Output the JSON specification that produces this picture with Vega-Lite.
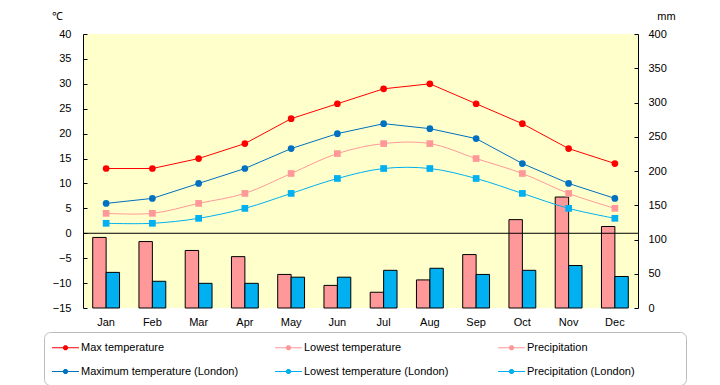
{
  "$schema": "https://vega.github.io/schema/vega-lite/v6.json",
  "width": 555,
  "height": 274,
  "autosize": "none",
  "padding": {"left": 83, "top": 34, "right": 82, "bottom": 77},
  "config": {
    "view": {"fill": "#FFFFCC", "stroke": null},
    "font": "Liberation Sans",
    "axis": {"labelFontSize": 11, "labelColor": "black", "domainColor": "black", "tickColor": "black", "grid": false, "titleFontWeight": "normal", "titleFontSize": 11, "titleColor": "black", "labelFont": "Liberation Sans", "titleFont": "Liberation Sans", "labelOverlap": false},
    "legend": {
      "orient": "none", "legendX": -39, "legendY": 298,
      "direction": "horizontal", "columns": 3, "gridAlign": "all",
      "padding": 8, "fillColor": "white", "strokeColor": "#BBBBBB", "cornerRadius": 6,
      "symbolSize": 225, "symbolStrokeWidth": 0, "symbolOpacity": 1,
      "labelFont": "Liberation Sans", "labelFontSize": 11, "labelColor": "black", "labelOffset": 14, "labelLimit": 300,
      "columnPadding": 36, "rowPadding": 11
    }
  },
  "datasets": {
    "precip": [
      {"month": "Jan", "series": "Precipitation", "value": 103},
      {"month": "Feb", "series": "Precipitation", "value": 97},
      {"month": "Mar", "series": "Precipitation", "value": 84},
      {"month": "Apr", "series": "Precipitation", "value": 75},
      {"month": "May", "series": "Precipitation", "value": 49},
      {"month": "Jun", "series": "Precipitation", "value": 33},
      {"month": "Jul", "series": "Precipitation", "value": 23},
      {"month": "Aug", "series": "Precipitation", "value": 41},
      {"month": "Sep", "series": "Precipitation", "value": 78},
      {"month": "Oct", "series": "Precipitation", "value": 129},
      {"month": "Nov", "series": "Precipitation", "value": 162},
      {"month": "Dec", "series": "Precipitation", "value": 119},
      {"month": "Jan", "series": "Precipitation (London)", "value": 52},
      {"month": "Feb", "series": "Precipitation (London)", "value": 39},
      {"month": "Mar", "series": "Precipitation (London)", "value": 36},
      {"month": "Apr", "series": "Precipitation (London)", "value": 36},
      {"month": "May", "series": "Precipitation (London)", "value": 45},
      {"month": "Jun", "series": "Precipitation (London)", "value": 45},
      {"month": "Jul", "series": "Precipitation (London)", "value": 55},
      {"month": "Aug", "series": "Precipitation (London)", "value": 58},
      {"month": "Sep", "series": "Precipitation (London)", "value": 49},
      {"month": "Oct", "series": "Precipitation (London)", "value": 55},
      {"month": "Nov", "series": "Precipitation (London)", "value": 62},
      {"month": "Dec", "series": "Precipitation (London)", "value": 46}
    ],
    "temps": [
      {"month": "Jan", "series": "Max temperature", "value": 13},
      {"month": "Feb", "series": "Max temperature", "value": 13},
      {"month": "Mar", "series": "Max temperature", "value": 15},
      {"month": "Apr", "series": "Max temperature", "value": 18},
      {"month": "May", "series": "Max temperature", "value": 23},
      {"month": "Jun", "series": "Max temperature", "value": 26},
      {"month": "Jul", "series": "Max temperature", "value": 29},
      {"month": "Aug", "series": "Max temperature", "value": 30},
      {"month": "Sep", "series": "Max temperature", "value": 26},
      {"month": "Oct", "series": "Max temperature", "value": 22},
      {"month": "Nov", "series": "Max temperature", "value": 17},
      {"month": "Dec", "series": "Max temperature", "value": 14},
      {"month": "Jan", "series": "Maximum temperature (London)", "value": 6},
      {"month": "Feb", "series": "Maximum temperature (London)", "value": 7},
      {"month": "Mar", "series": "Maximum temperature (London)", "value": 10},
      {"month": "Apr", "series": "Maximum temperature (London)", "value": 13},
      {"month": "May", "series": "Maximum temperature (London)", "value": 17},
      {"month": "Jun", "series": "Maximum temperature (London)", "value": 20},
      {"month": "Jul", "series": "Maximum temperature (London)", "value": 22},
      {"month": "Aug", "series": "Maximum temperature (London)", "value": 21},
      {"month": "Sep", "series": "Maximum temperature (London)", "value": 19},
      {"month": "Oct", "series": "Maximum temperature (London)", "value": 14},
      {"month": "Nov", "series": "Maximum temperature (London)", "value": 10},
      {"month": "Dec", "series": "Maximum temperature (London)", "value": 7},
      {"month": "Jan", "series": "Lowest temperature", "value": 4},
      {"month": "Feb", "series": "Lowest temperature", "value": 4},
      {"month": "Mar", "series": "Lowest temperature", "value": 6},
      {"month": "Apr", "series": "Lowest temperature", "value": 8},
      {"month": "May", "series": "Lowest temperature", "value": 12},
      {"month": "Jun", "series": "Lowest temperature", "value": 16},
      {"month": "Jul", "series": "Lowest temperature", "value": 18},
      {"month": "Aug", "series": "Lowest temperature", "value": 18},
      {"month": "Sep", "series": "Lowest temperature", "value": 15},
      {"month": "Oct", "series": "Lowest temperature", "value": 12},
      {"month": "Nov", "series": "Lowest temperature", "value": 8},
      {"month": "Dec", "series": "Lowest temperature", "value": 5},
      {"month": "Jan", "series": "Lowest temperature (London)", "value": 2},
      {"month": "Feb", "series": "Lowest temperature (London)", "value": 2},
      {"month": "Mar", "series": "Lowest temperature (London)", "value": 3},
      {"month": "Apr", "series": "Lowest temperature (London)", "value": 5},
      {"month": "May", "series": "Lowest temperature (London)", "value": 8},
      {"month": "Jun", "series": "Lowest temperature (London)", "value": 11},
      {"month": "Jul", "series": "Lowest temperature (London)", "value": 13},
      {"month": "Aug", "series": "Lowest temperature (London)", "value": 13},
      {"month": "Sep", "series": "Lowest temperature (London)", "value": 11},
      {"month": "Oct", "series": "Lowest temperature (London)", "value": 8},
      {"month": "Nov", "series": "Lowest temperature (London)", "value": 5},
      {"month": "Dec", "series": "Lowest temperature (London)", "value": 3}
    ]
  },
  "layer": [
    {
      "data": {"name": "precip"},
      "mark": {"type": "bar", "stroke": "black", "strokeWidth": 1},
      "encoding": {
        "x": {
          "field": "month", "type": "nominal",
          "sort": ["Jan","Feb","Mar","Apr","May","Jun","Jul","Aug","Sep","Oct","Nov","Dec"],
          "scale": {"paddingInner": 0.42, "paddingOuter": 0.21},
          "axis": {"title": null, "labelAngle": 0, "domain": false, "ticks": false, "labelPadding": 8}
        },
        "xOffset": {"field": "series", "type": "nominal", "scale": {"domain": ["Precipitation", "Precipitation (London)"]}},
        "y": {
          "field": "value", "type": "quantitative",
          "scale": {"domain": [0, 400], "nice": false},
          "axis": {"orient": "right", "values": [0,50,100,150,200,250,300,350,400], "labelOverlap": false, "tickSize": -4, "labelPadding": 14, "title": "mm", "titleAngle": 0, "titleX": 28, "titleY": -18, "titleAlign": "center", "titleBaseline": "middle"}
        },
        "color": {
          "field": "series", "type": "nominal",
          "scale": {
            "domain": ["Max temperature", "Lowest temperature", "Precipitation", "Maximum temperature (London)", "Lowest temperature (London)", "Precipitation (London)"],
            "range": ["#FF0000", "#FF9999", "#FF9999", "#0070C0", "#00B0F0", "#00B0F0"]
          },
          "legend": {
            "title": null,
            "symbolType": "M-1,-0.07H2.6V0.07H-1Z M1.14,0.14L0.94,0.34L0.66,0.34L0.46,0.14L0.46,-0.14L0.66,-0.34L0.94,-0.34L1.14,-0.14Z",
            "labelExpr": "datum.label === 'Precipitation (London)' ? datum.label + '\u00a0\u00a0\u00a0\u00a0\u00a0\u00a0\u00a0\u00a0\u00a0\u00a0\u00a0\u00a0\u00a0\u00a0\u200b' : datum.label"
          }
        }
      }
    },
    {
      "data": {"name": "temps"},
      "encoding": {
        "y": {
          "field": "value", "type": "quantitative",
          "scale": {"domain": [-15, 40], "nice": false},
          "axis": {"orient": "left", "values": [-15,-10,-5,0,5,10,15,20,25,30,35,40], "labelOverlap": false, "tickSize": -4, "labelPadding": 16, "title": "℃", "titleAngle": 0, "titleX": -26, "titleY": -18, "titleAlign": "center", "titleBaseline": "middle"}
        }
      },
      "layer": [
        {
          "data": {"values": [{"value": 0}]},
          "mark": {"type": "rule", "color": "black", "strokeWidth": 1},
          "encoding": {}
        },
        {
          "transform": [{"filter": "datum.series === 'Max temperature' || datum.series === 'Maximum temperature (London)'"}],
          "mark": {"type": "line", "strokeWidth": 1, "interpolate": "linear"},
          "encoding": {
            "x": {"field": "month", "type": "nominal", "sort": ["Jan","Feb","Mar","Apr","May","Jun","Jul","Aug","Sep","Oct","Nov","Dec"]},
            "color": {"field": "series", "type": "nominal", "legend": null}
          }
        },
        {
          "transform": [{"filter": "datum.series === 'Lowest temperature' || datum.series === 'Lowest temperature (London)'"}],
          "mark": {"type": "line", "strokeWidth": 1, "interpolate": "catmull-rom"},
          "encoding": {
            "x": {"field": "month", "type": "nominal", "sort": ["Jan","Feb","Mar","Apr","May","Jun","Jul","Aug","Sep","Oct","Nov","Dec"]},
            "color": {"field": "series", "type": "nominal", "legend": null}
          }
        },
        {
          "transform": [{"filter": "datum.series === 'Max temperature' || datum.series === 'Maximum temperature (London)'"}],
          "mark": {"type": "point", "shape": "circle", "filled": true, "size": 45, "opacity": 1},
          "encoding": {
            "x": {"field": "month", "type": "nominal", "sort": ["Jan","Feb","Mar","Apr","May","Jun","Jul","Aug","Sep","Oct","Nov","Dec"]},
            "color": {"field": "series", "type": "nominal", "legend": null}
          }
        },
        {
          "transform": [{"filter": "datum.series === 'Lowest temperature' || datum.series === 'Lowest temperature (London)'"}],
          "mark": {"type": "point", "shape": "square", "filled": true, "size": 45, "opacity": 1},
          "encoding": {
            "x": {"field": "month", "type": "nominal", "sort": ["Jan","Feb","Mar","Apr","May","Jun","Jul","Aug","Sep","Oct","Nov","Dec"]},
            "color": {"field": "series", "type": "nominal", "legend": null}
          }
        }
      ]
    }
  ],
  "resolve": {"scale": {"y": "independent"}}
}
